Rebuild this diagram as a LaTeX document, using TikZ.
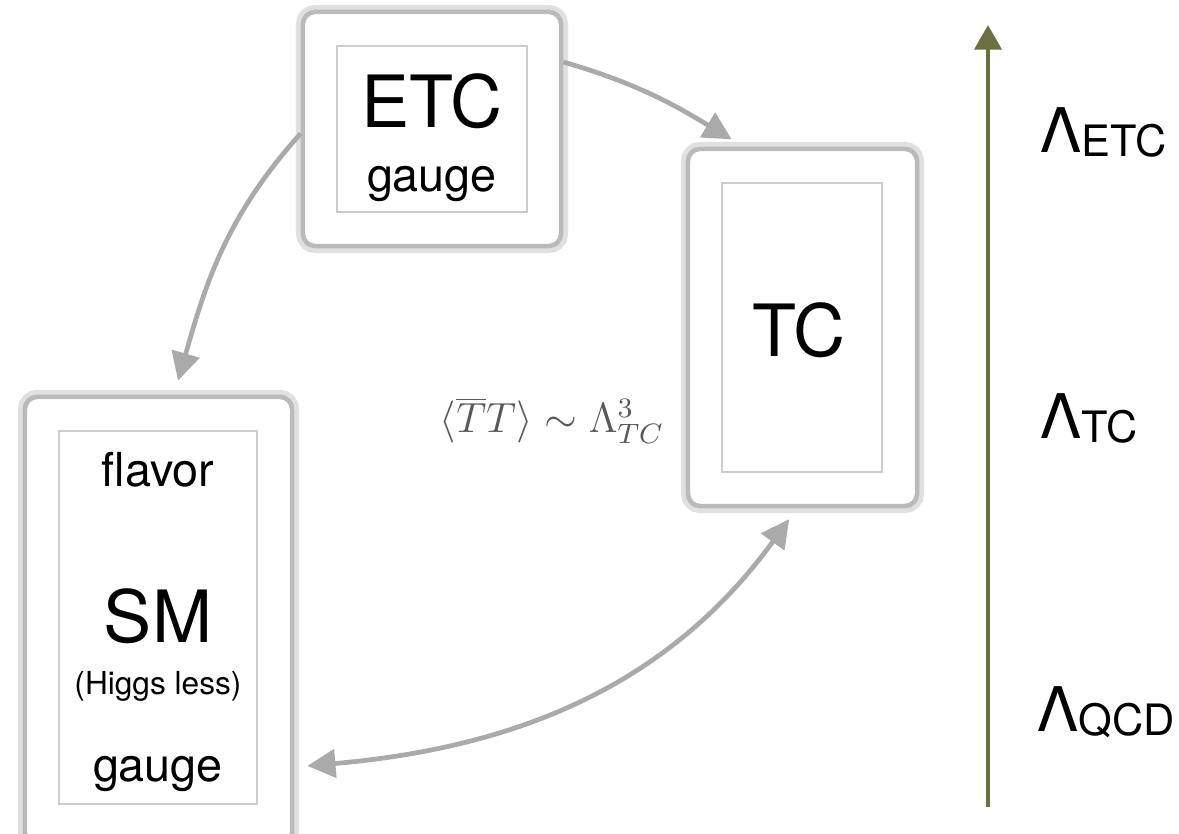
\documentclass[tikz,border=0pt]{standalone}
\usepackage[no-math]{fontspec}
\setmainfont{TeX Gyre Heros}
\usetikzlibrary{shapes,arrows.meta}
\definecolor{scaleolive}{RGB}{106,112,62}
\definecolor{linkgray}{RGB}{170,170,170}
\newcommand{\lsub}[1]{{\fontsize{12.3}{14}\selectfont\raisebox{-0.9pt}{#1}}}
\tikzstyle{sector} = [rectangle, draw=black!27, line width=1.3pt, fill=white, rounded corners=3.5pt, inner sep=0pt, preaction={draw=black!12, line width=4pt}]
\tikzstyle{innerframe} = [rectangle, draw=black!20, line width=0.6pt, inner sep=0pt]
\tikzstyle{bigtext} = [font=\fontsize{20.5}{24}\selectfont, anchor=base, inner sep=0pt]
\tikzstyle{midtext} = [font=\fontsize{13.3}{16}\selectfont, anchor=base, inner sep=0pt]
\tikzstyle{smalltext} = [font=\fontsize{9}{11}\selectfont, anchor=base, inner sep=0pt]
\tikzstyle{condensate} = [font=\fontsize{12}{14}\selectfont, text=black!65, anchor=base, inner sep=0pt]
\tikzstyle{energy} = [font=\fontsize{17.5}{21}\selectfont, anchor=base west, inner sep=0pt]
\tikzstyle{line} = [draw, linkgray, line width=1.35pt, -{Triangle[length=8pt,width=8pt]}]
\tikzstyle{energyaxis} = [draw, scaleolive, line width=1.35pt, -{Triangle[length=7pt,width=7.6pt]}]

\begin{document}
\begin{tikzpicture}[x=0.01cm, y=0.01cm]
\useasboundingbox (0,0) rectangle (1179,834);

% ETC sector
\node [sector, minimum width=2.58cm, minimum height=2.34cm] (etc) at (432,705) {};
\node [innerframe, minimum width=1.90cm, minimum height=1.66cm] (etcframe) at (432,705) {};
\node [bigtext] (etcname) at (432,706) {ETC};
\node [midtext] (etcgauge) at (432,642) {gauge};

% TC sector
\node [sector, minimum width=2.29cm, minimum height=3.57cm] (tc) at (802.5,506.5) {};
\node [innerframe, minimum width=1.60cm, minimum height=2.89cm] (tcframe) at (802,506.5) {};
\node [bigtext] (tcname) at (799,477) {TC};

% SM sector
\node [sector, minimum width=2.67cm, minimum height=4.48cm] (sm) at (158.5,213) {};
\node [innerframe, minimum width=1.98cm, minimum height=3.73cm] (smframe) at (158,216.5) {};
\node [midtext] (smflavor) at (158,347) {flavor};
\node [bigtext] (smname) at (158,191) {SM};
\node [smalltext] (smhiggs) at (158,139) {(Higgs less)};
\node [midtext] (smgauge) at (158,52) {gauge};

\node [condensate] (tt) at (552,401) {$\langle\overline{T}T\rangle\sim\Lambda^3_{TC}$};

% energy scale
\coordinate (low) at (988,27);
\coordinate (high) at (988,809);
\path [energyaxis] (low) -- (high);

\node [energy] (letc) at (1040,681) {Λ\lsub{ETC}};
\node [energy] (ltc) at (1040,395) {Λ\lsub{TC}};
\node [energy] (lqcd) at (1037,102) {Λ\lsub{QCD}};

% now we link together the sectors
\path [line, shorten >=4pt] (etc.27) to[out=-16,in=149] (tc.108);
\path [line, shorten >=4.1pt] (etc.182) to[out=228,in=74] ([xshift=0.155cm]sm.north);
\path [line, {Triangle[length=8pt,width=8pt]}-{Triangle[length=8pt,width=8pt]}, shorten <=3.7pt, shorten >=3.8pt] ([yshift=-1.46cm]sm.east) to[out=5,in=234] ([xshift=-0.055cm]tc.south);

\end{tikzpicture}
\end{document}
